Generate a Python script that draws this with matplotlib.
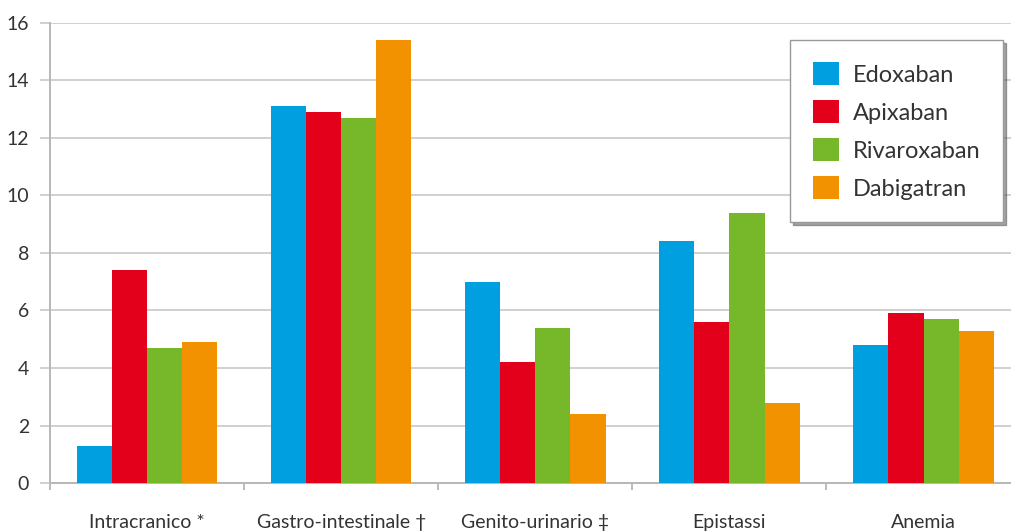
import numpy as np
import matplotlib.pyplot as plt
from matplotlib.patches import Patch

plt.rcParams['font.family'] = ['Lato', 'DejaVu Sans']

categories = ['Intracranico *', 'Gastro-intestinale \u2020', 'Genito-urinario \u2021', 'Epistassi', 'Anemia']
drugs = ['Edoxaban', 'Apixaban', 'Rivaroxaban', 'Dabigatran']
edoxaban = [1.3, 13.1, 7.0, 8.4, 4.8]
apixaban = [7.4, 12.9, 4.2, 5.6, 5.9]
rivaroxaban = [4.7, 12.7, 5.4, 9.4, 5.7]
dabigatran = [4.9, 15.4, 2.4, 2.8, 5.3]
colors = ['#009FDF', '#E2001A', '#76B82A', '#F39200']

series = [edoxaban, apixaban, rivaroxaban, dabigatran]

fig = plt.figure(figsize=(10.11, 5.32), dpi=100)
ax = fig.add_axes([0.0495, 0.092, 0.96, 0.865])

x = np.arange(len(categories))
w = 0.181
for i, (vals, c) in enumerate(zip(series, colors)):
    ax.bar(x + (i - 1.5) * w, vals, width=w, color=c, zorder=3)

ax.set_xlim(-0.5, 4.5)
ax.set_ylim(0, 16)
ax.set_yticks(np.arange(0, 17, 2))
ax.grid(axis='y', color='#c8c8c8', linewidth=1.2, zorder=0)

# category boundaries as minor ticks, labels centred on the groups
ax.set_xticks(x)
ax.set_xticklabels(categories, fontsize=14, color='#333333')
ax.set_xticks(np.arange(-0.5, 5.0, 1.0), minor=True)
ax.tick_params(axis='x', which='major', length=0, pad=22)
ax.tick_params(axis='x', which='minor', length=5, color='#b0b0b0', width=1.2)
ax.tick_params(axis='y', length=7, color='#c8c8c8', width=1.2, labelsize=14,
               labelcolor='#333333', pad=8)

for side in ['top', 'right']:
    ax.spines[side].set_visible(False)
for side in ['left', 'bottom']:
    ax.spines[side].set_color('#b8b8b8')
    ax.spines[side].set_linewidth(1.4)

handles = [Patch(facecolor=c, edgecolor='none') for c in colors]
leg = fig.legend(handles, drugs, loc='upper right', bbox_to_anchor=(0.992, 0.925),
                 fontsize=17, frameon=True, fancybox=False, shadow=True,
                 handlelength=1.1, handleheight=1.1, handletextpad=0.6,
                 labelspacing=0.62, borderpad=0.95, borderaxespad=0)
leg.get_frame().set_edgecolor('#999999')
leg.get_frame().set_linewidth(1.0)
leg.set_zorder(5)
for t in leg.get_texts():
    t.set_color('#333333')

fig.savefig('out.png', dpi=100)
